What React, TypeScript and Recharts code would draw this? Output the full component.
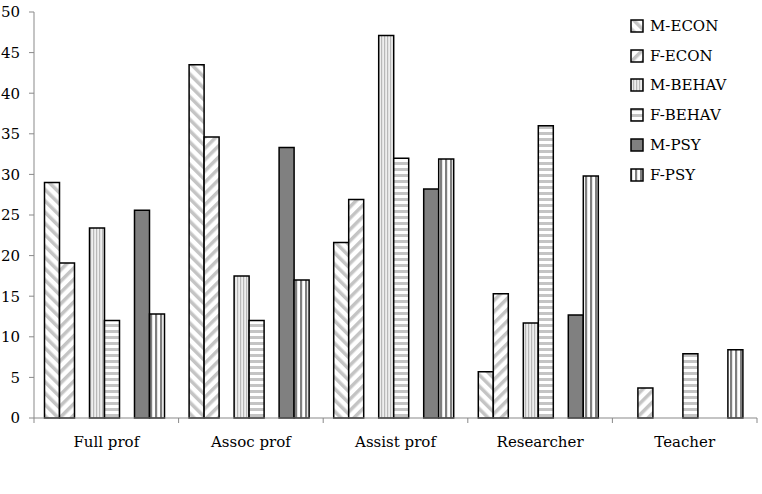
import { Bar, BarChart, XAxis, YAxis } from "recharts";

const categories = ["Full prof", "Assoc prof", "Assist prof", "Researcher", "Teacher"];
const mEcon = [29, 43.5, 21.6, 5.7, 0];
const fEcon = [19.1, 34.6, 26.9, 15.3, 3.7];
const mBehav = [23.4, 17.5, 47.1, 11.7, 0];
const fBehav = [12, 12, 32, 36, 7.9];
const mPsy = [25.6, 33.3, 28.2, 12.7, 0];
const fPsy = [12.8, 17, 31.9, 29.8, 8.4];
const yTicks = [0, 5, 10, 15, 20, 25, 30, 35, 40, 45, 50];

const series = [
  { key: "M-ECON", fill: "url(#pMEcon)" },
  { key: "F-ECON", fill: "url(#pFEcon)" },
  { key: "M-BEHAV", fill: "url(#pMBehav)" },
  { key: "F-BEHAV", fill: "url(#pFBehav)" },
  { key: "M-PSY", fill: "#808080" },
  { key: "F-PSY", fill: "url(#pFPsy)" },
];

const data = categories.map((name, i) => ({
  name,
  "M-ECON": mEcon[i] || null,
  "F-ECON": fEcon[i] || null,
  "M-BEHAV": mBehav[i] || null,
  "F-BEHAV": fBehav[i] || null,
  "M-PSY": mPsy[i] || null,
  "F-PSY": fPsy[i] || null,
}));

const FONT = "'DejaVu Serif', 'Liberation Serif', serif";
const W = 762;
const H = 494;
const M = { top: 12, right: 5, bottom: 36, left: 0 };
const Y_W = 34;
const halfBand = (W - M.left - M.right - Y_W) / categories.length / 2;

function XTick(props: any) {
  const { x, y, payload, index } = props;
  const off = payload && payload.offset ? payload.offset : halfBand;
  return (
    <g>
      <line x1={x - off} x2={x - off} y1={y} y2={y + 5} stroke="#898989" />
      {index === categories.length - 1 && (
        <line x1={x + off} x2={x + off} y1={y} y2={y + 5} stroke="#898989" />
      )}
      <text x={x} y={y + 29} textAnchor="middle" fontSize={15} fontFamily={FONT} fill="#000">
        {payload.value}
      </text>
    </g>
  );
}

function LegendBox() {
  return (
    <div
      style={{
        position: "absolute",
        left: 630,
        top: 11,
        fontFamily: FONT,
        fontSize: 15,
        color: "#000",
      }}
    >
      {series.map((s) => (
        <div key={s.key} style={{ display: "flex", alignItems: "center", height: 29.8 }}>
          <svg width={14} height={14} style={{ marginRight: 6 }}>
            <rect x={1} y={1} width={12} height={12} fill={s.fill} stroke="#000" strokeWidth={1.5} />
          </svg>
          <span>{s.key}</span>
        </div>
      ))}
    </div>
  );
}

export default function App() {
  return (
    <div style={{ position: "absolute", left: 0, top: 0, width: W, height: H, background: "#fff" }}>
      <BarChart
        width={W}
        height={H}
        data={data}
        margin={M}
        barCategoryGap={10.5}
        barGap={0}
      >
        <defs>
          <pattern id="pMEcon" patternUnits="userSpaceOnUse" width={8} height={8} patternTransform="rotate(-45)">
            <rect width={8} height={8} fill="#fff" />
            <rect width={3.5} height={8} fill="#c4c4c4" />
          </pattern>
          <pattern id="pFEcon" patternUnits="userSpaceOnUse" width={8} height={8} patternTransform="rotate(45)">
            <rect width={8} height={8} fill="#fff" />
            <rect width={3.5} height={8} fill="#c4c4c4" />
          </pattern>
          <pattern id="pMBehav" patternUnits="userSpaceOnUse" width={3} height={4}>
            <rect width={3} height={4} fill="#eeeeee" />
            <rect width={1.2} height={4} fill="#b8b8b8" />
          </pattern>
          <pattern id="pFBehav" patternUnits="userSpaceOnUse" width={4} height={6}>
            <rect width={4} height={6} fill="#fff" />
            <rect width={4} height={3} fill="#c4c4c4" />
          </pattern>
          <pattern id="pFPsy" patternUnits="userSpaceOnUse" width={5} height={4}>
            <rect width={5} height={4} fill="#fff" />
            <rect width={2.2} height={4} fill="#7f7f7f" />
          </pattern>
        </defs>
        <XAxis
          dataKey="name"
          stroke="#898989"
          tickLine={false}
          tickSize={0}
          tickMargin={0}
          height={40}
          interval={0}
          tick={<XTick />}
        />
        <YAxis
          domain={[0, 50]}
          ticks={yTicks}
          width={Y_W}
          stroke="#898989"
          tickSize={5}
          tickMargin={9}
          interval={0}
          tick={{ fill: "#000", fontSize: 15, fontFamily: FONT }}
        />
        <Bar dataKey="M-ECON" fill={series[0].fill} stroke="#000" strokeWidth={1.5} isAnimationActive={false} />
        <Bar dataKey="F-ECON" fill={series[1].fill} stroke="#000" strokeWidth={1.5} isAnimationActive={false} />
        <Bar dataKey="gap1" isAnimationActive={false} />
        <Bar dataKey="M-BEHAV" fill={series[2].fill} stroke="#000" strokeWidth={1.5} isAnimationActive={false} />
        <Bar dataKey="F-BEHAV" fill={series[3].fill} stroke="#000" strokeWidth={1.5} isAnimationActive={false} />
        <Bar dataKey="gap2" isAnimationActive={false} />
        <Bar dataKey="M-PSY" fill={series[4].fill} stroke="#000" strokeWidth={1.5} isAnimationActive={false} />
        <Bar dataKey="F-PSY" fill={series[5].fill} stroke="#000" strokeWidth={1.5} isAnimationActive={false} />
      </BarChart>
      <LegendBox />
    </div>
  );
}
